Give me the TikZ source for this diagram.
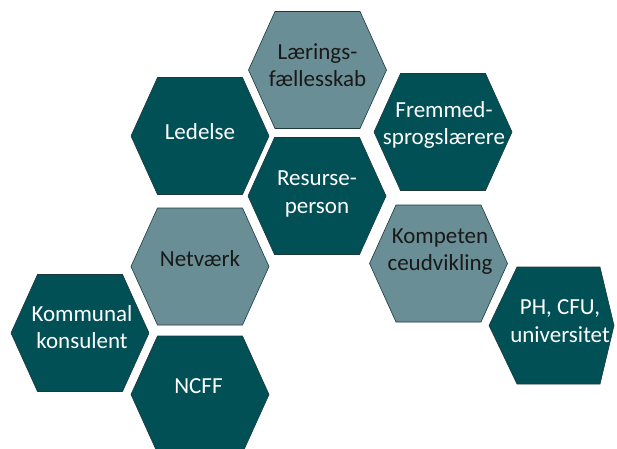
\documentclass[tikz,border=0pt]{standalone}
\usepackage{fontspec}
\setmainfont{Carlito}
\definecolor{darkteal}{RGB}{0,80,86}
\definecolor{lightteal}{RGB}{106,142,149}
\definecolor{hexline}{RGB}{28,58,62}
\tikzset{
  hexdark/.style={fill=darkteal, draw=hexline, line width=0.6pt},
  hexlight/.style={fill=lightteal, draw=hexline, line width=0.6pt},
  lbldark/.style={text=white, align=center, inner sep=0pt, font=\fontsize{23}{27.5}\selectfont},
  lbllight/.style={text=black!90, align=center, inner sep=0pt, font=\fontsize{23}{27.5}\selectfont},
}
\newcommand\hexat[3]{\path[#1, shift={(#2,#3)}] (-69,0) -- (-42.5,-58.5) -- (42.5,-58.5) -- (69,0) -- (42.5,58.5) -- (-42.5,58.5) -- cycle;}
\begin{document}
\begin{tikzpicture}[x=1pt,y=-1pt]
\useasboundingbox (0,0) rectangle (617,448);
\clip (0,0) rectangle (617,448);
\fill[white] (0,0) rectangle (617,448);
% hexagons
\hexat{hexlight}{317.5}{70}
\hexat{hexdark}{200}{136}
\hexat{hexdark}{317}{196}
\hexat{hexdark}{443}{132}
\hexat{hexlight}{200}{266.5}
\hexat{hexlight}{438.5}{263.5}
\path[hexdark] (489,325.5) -- (517,267) -- (600,267) -- (614,325.5) -- (600,384) -- (517,384) -- cycle;
\hexat{hexdark}{80}{333}
\hexat{hexdark}{200}{394.5}
% labels
\node[lbllight] (laering) at (317.5,65) {Lærings-\\fællesskab};
\node[lbldark] (ledelse) at (200,132) {Ledelse};
\node[lbldark] (resurse) at (317,194) {Resurse-\\person};
\node[lbldark] (fremmed) at (444,125) {Fremmed-\\sprogslærere};
\node[lbllight] (netvaerk) at (200,259) {Netværk};
\node[lbllight] (kompetence) at (440,251.5) {Kompeten\\ceudvikling};
\node[lbldark] (ph) at (560,321) {PH, CFU,\\universitet};
\node[lbldark] (kommunal) at (82,327) {Kommunal\\konsulent};
\node[lbldark] (ncff) at (198.5,386) {NCFF};
\end{tikzpicture}
\end{document}
